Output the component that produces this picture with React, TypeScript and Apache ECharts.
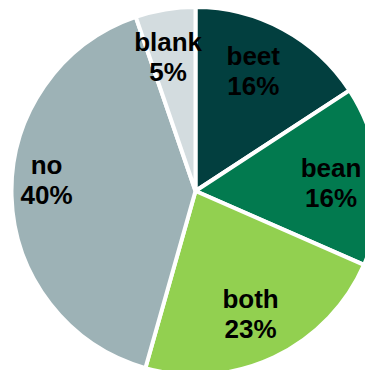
import React, { useEffect, useRef } from "react";
import * as echarts from "echarts";

const categories = ["beet", "bean", "both", "no", "blank"];
const values = [9, 9, 13, 23, 3];
const colors = ["#023F3F", "#027A4F", "#92D050", "#9DB2B6", "#D3DCDF"];

export default function App() {
  const ref = useRef<HTMLDivElement>(null);
  useEffect(() => {
    if (!ref.current) return;
    const chart = echarts.init(ref.current, null, { renderer: "svg" });
    const data = categories.map((c, i) => ({
      name: c,
      value: values[i],
      itemStyle: { color: colors[i] },
    }));
    const labelOpts: Record<string, any> = {
      no: { padding: [0, 26, 0, 0], offset: [0, -15] },
      beet: { padding: [0, 14, 0, 0] },
      blank: { padding: [0, 10, 0, 0] },
      both: { padding: [0, 6, 0, 0] },
      bean: { offset: [0, 3] },
    };
    const labelData = categories.map((c, i) => ({
      name: c,
      value: values[i],
      label: labelOpts[c] || {},
    }));
    chart.setOption({
      animation: false,
      series: [
        {
          type: "pie",
          center: [195.5, 191],
          radius: [0, 184],
          startAngle: 90,
          clockwise: true,
          silent: true,
          label: { show: false },
          labelLine: { show: false },
          itemStyle: { borderColor: "#ffffff", borderWidth: 4 },
          data,
        },
        {
          type: "pie",
          center: [195.5, 191],
          radius: [84, 182],
          startAngle: 90,
          clockwise: true,
          silent: true,
          itemStyle: { color: "transparent", borderWidth: 0 },
          labelLine: { show: false },
          label: {
            show: true,
            position: "inner",
            formatter: (p: any) => `${p.name}\n${Math.round(p.percent)}%`,
            color: "#000000",
            fontFamily: "Liberation Sans, Arial, sans-serif",
            fontWeight: "bold",
            fontSize: 26,
            lineHeight: 30,
            align: "center",
          },
          data: labelData,
        },
      ],
    });
    return () => chart.dispose();
  }, []);
  return (
    <div
      ref={ref}
      style={{ position: "absolute", left: 0, top: 0, width: 365, height: 370 }}
    />
  );
}
